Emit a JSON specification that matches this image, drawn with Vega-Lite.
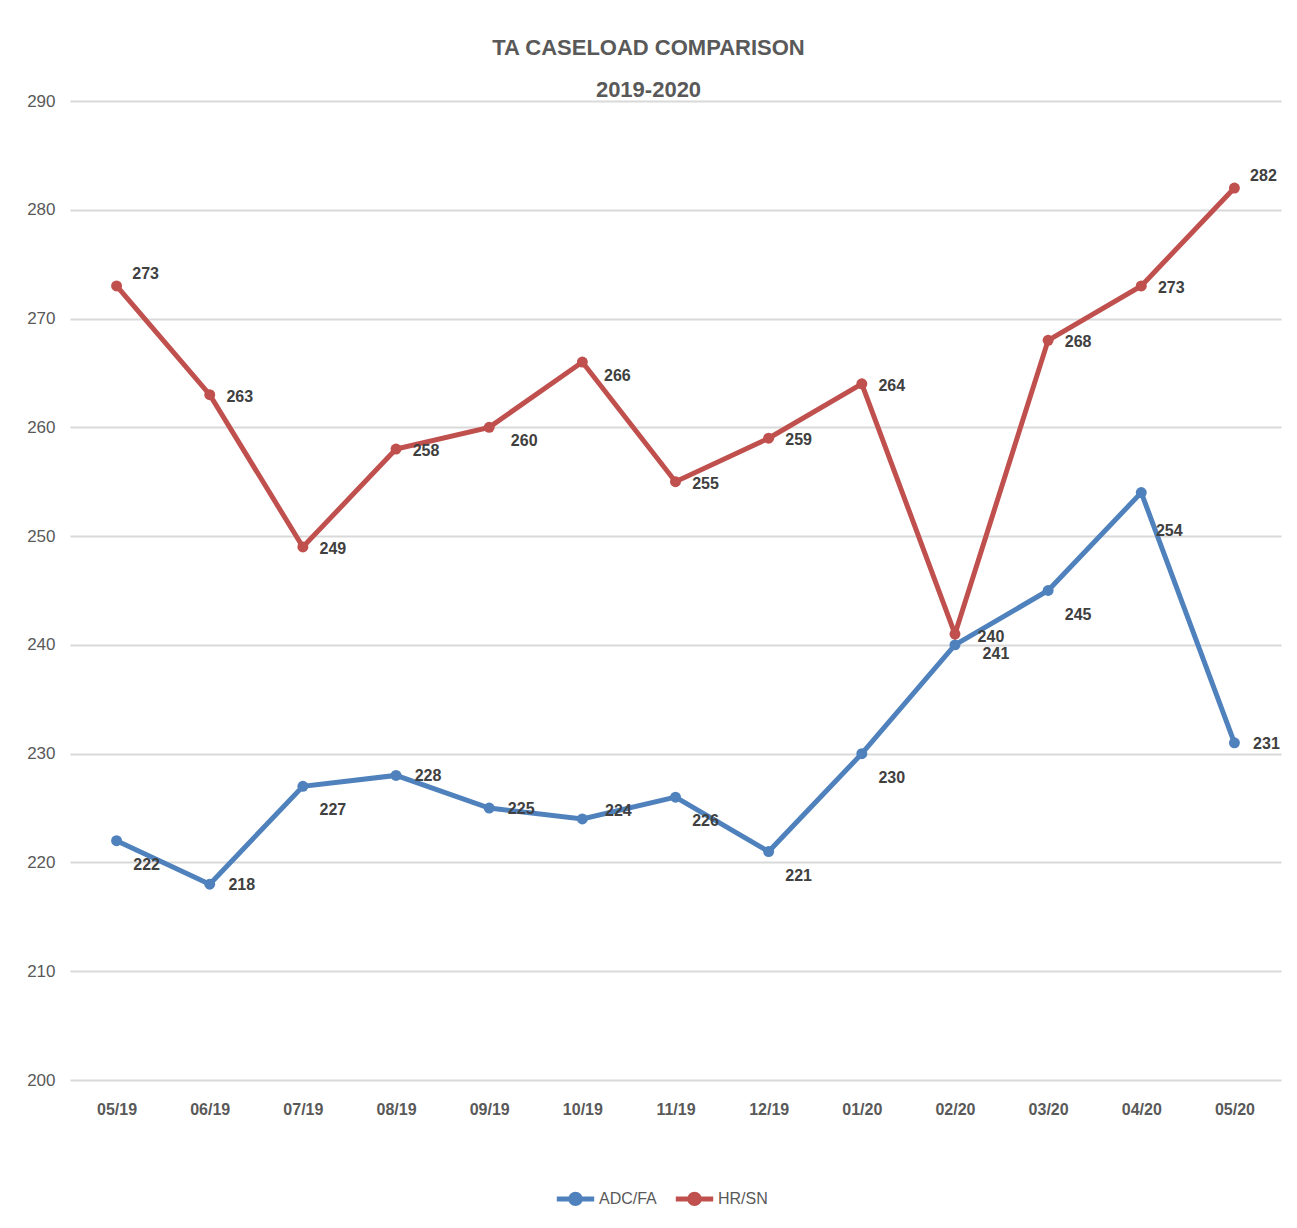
{
  "$schema": "https://vega.github.io/schema/vega-lite/v6.json",
  "width": 1211,
  "height": 979,
  "autosize": {"type": "none"},
  "padding": {"left": 70, "top": 101, "right": 16, "bottom": 148},
  "background": "white",
  "config": {
    "font": "Liberation Sans, Arial, sans-serif",
    "view": {"stroke": null}
  },
  "title": {
    "text": ["TA CASELOAD COMPARISON", "2019-2020"],
    "fontSize": 22,
    "fontWeight": "bold",
    "color": "#595959",
    "lineHeight": 42,
    "anchor": "middle",
    "frame": "group",
    "offset": -10,
    "dx": -27
  },
  "data": {
    "values": [
      {"month": "05/19", "series": "ADC/FA", "value": 222},
      {"month": "06/19", "series": "ADC/FA", "value": 218},
      {"month": "07/19", "series": "ADC/FA", "value": 227},
      {"month": "08/19", "series": "ADC/FA", "value": 228},
      {"month": "09/19", "series": "ADC/FA", "value": 225},
      {"month": "10/19", "series": "ADC/FA", "value": 224},
      {"month": "11/19", "series": "ADC/FA", "value": 226},
      {"month": "12/19", "series": "ADC/FA", "value": 221},
      {"month": "01/20", "series": "ADC/FA", "value": 230},
      {"month": "02/20", "series": "ADC/FA", "value": 240},
      {"month": "03/20", "series": "ADC/FA", "value": 245},
      {"month": "04/20", "series": "ADC/FA", "value": 254},
      {"month": "05/20", "series": "ADC/FA", "value": 231},
      {"month": "05/19", "series": "HR/SN", "value": 273},
      {"month": "06/19", "series": "HR/SN", "value": 263},
      {"month": "07/19", "series": "HR/SN", "value": 249},
      {"month": "08/19", "series": "HR/SN", "value": 258},
      {"month": "09/19", "series": "HR/SN", "value": 260},
      {"month": "10/19", "series": "HR/SN", "value": 266},
      {"month": "11/19", "series": "HR/SN", "value": 255},
      {"month": "12/19", "series": "HR/SN", "value": 259},
      {"month": "01/20", "series": "HR/SN", "value": 264},
      {"month": "02/20", "series": "HR/SN", "value": 241},
      {"month": "03/20", "series": "HR/SN", "value": 268},
      {"month": "04/20", "series": "HR/SN", "value": 273},
      {"month": "05/20", "series": "HR/SN", "value": 282}
    ]
  },
  "encoding": {
    "x": {
      "field": "month",
      "type": "ordinal",
      "sort": ["05/19","06/19","07/19","08/19","09/19","10/19","11/19","12/19","01/20","02/20","03/20","04/20","05/20"],
      "scale": {"type": "point", "padding": 0.5},
      "axis": {
        "title": null,
        "domain": false,
        "ticks": false,
        "grid": false,
        "labelAngle": 0,
        "labelPadding": 21,
        "labelFontSize": 16,
        "labelFontWeight": "bold",
        "labelColor": "#595959"
      }
    },
    "y": {
      "field": "value",
      "type": "quantitative",
      "scale": {"domain": [200, 290], "nice": false, "zero": false},
      "axis": {
        "title": null,
        "values": [200, 210, 220, 230, 240, 250, 260, 270, 280, 290],
        "domain": false,
        "ticks": false,
        "grid": true,
        "gridColor": "#d9d9d9",
        "gridWidth": 2,
        "labelPadding": 15,
        "labelFontSize": 17,
        "labelColor": "#595959"
      }
    }
  },
  "layer": [
    {
      "mark": {"type": "line", "strokeWidth": 5, "point": {"size": 120, "filled": true}},
      "encoding": {
        "color": {
          "field": "series",
          "type": "nominal",
          "scale": {"domain": ["ADC/FA", "HR/SN"], "range": ["#4f81bd", "#c0504d"]},
          "legend": {
            "title": null,
            "orient": "none",
            "direction": "horizontal",
            "legendX": 484,
            "legendY": 1076,
            "labelFontSize": 16,
            "labelColor": "#595959",
            "labelOffset": 2,
            "columnPadding": 8,
            "symbolType": "M-1,0L1,0M-0.25,0A0.25,0.25,0,1,0,0.25,0A0.25,0.25,0,1,0,-0.25,0",
            "symbolSize": 1400,
            "symbolStrokeWidth": 5
          }
        }
      }
    },
    {
      "transform": [{"filter": {"field": "series", "equal": "HR/SN"}}, {"filter": {"field": "month", "oneOf": ["06/19","07/19","08/19","11/19","12/19","01/20","03/20","04/20"]}}],
      "mark": {"type": "text", "fontSize": 16, "fontWeight": "bold", "color": "#404040", "dx": 30, "dy": 2},
      "encoding": {"text": {"field": "value", "type": "quantitative"}}
    },
    {
      "transform": [{"filter": {"field": "series", "equal": "HR/SN"}}, {"filter": {"field": "month", "oneOf": ["05/19","05/20"]}}],
      "mark": {"type": "text", "fontSize": 16, "fontWeight": "bold", "color": "#404040", "dx": 29, "dy": -12},
      "encoding": {"text": {"field": "value", "type": "quantitative"}}
    },
    {
      "transform": [{"filter": {"field": "series", "equal": "HR/SN"}}, {"filter": {"field": "month", "oneOf": ["09/19","10/19"]}}],
      "mark": {"type": "text", "fontSize": 16, "fontWeight": "bold", "color": "#404040", "dx": 35, "dy": 14},
      "encoding": {"text": {"field": "value", "type": "quantitative"}}
    },
    {
      "transform": [{"filter": {"field": "series", "equal": "HR/SN"}}, {"filter": {"field": "month", "equal": "02/20"}}],
      "mark": {"type": "text", "fontSize": 16, "fontWeight": "bold", "color": "#404040", "dx": 41, "dy": 20},
      "encoding": {"text": {"field": "value", "type": "quantitative"}}
    },
    {
      "transform": [{"filter": {"field": "series", "equal": "ADC/FA"}}, {"filter": {"field": "month", "oneOf": ["06/19","08/19","09/19","05/20"]}}],
      "mark": {"type": "text", "fontSize": 16, "fontWeight": "bold", "color": "#404040", "dx": 32, "dy": 1},
      "encoding": {"text": {"field": "value", "type": "quantitative"}}
    },
    {
      "transform": [{"filter": {"field": "series", "equal": "ADC/FA"}}, {"filter": {"field": "month", "oneOf": ["10/19","02/20"]}}],
      "mark": {"type": "text", "fontSize": 16, "fontWeight": "bold", "color": "#404040", "dx": 36, "dy": -8},
      "encoding": {"text": {"field": "value", "type": "quantitative"}}
    },
    {
      "transform": [{"filter": {"field": "series", "equal": "ADC/FA"}}, {"filter": {"field": "month", "oneOf": ["05/19","07/19","11/19","12/19","01/20","03/20"]}}],
      "mark": {"type": "text", "fontSize": 16, "fontWeight": "bold", "color": "#404040", "dx": 30, "dy": 24},
      "encoding": {"text": {"field": "value", "type": "quantitative"}}
    },
    {
      "transform": [{"filter": {"field": "series", "equal": "ADC/FA"}}, {"filter": {"field": "month", "equal": "04/20"}}],
      "mark": {"type": "text", "fontSize": 16, "fontWeight": "bold", "color": "#404040", "dx": 28, "dy": 38},
      "encoding": {"text": {"field": "value", "type": "quantitative"}}
    }
  ]
}
